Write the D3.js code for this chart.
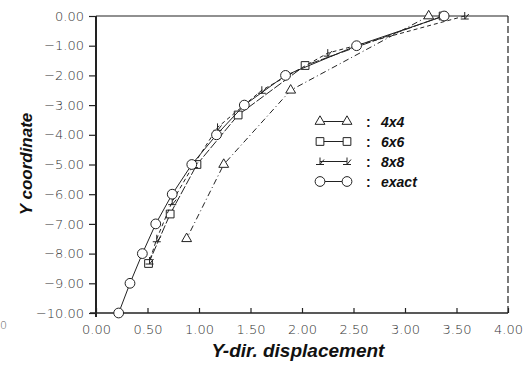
<!DOCTYPE html>
<html><head><meta charset="utf-8">
<script src="https://cdn.jsdelivr.net/npm/d3@7"></script>
<style>body{margin:0;background:#fff}svg{display:block}</style>
</head><body>
<svg id="c" width="526" height="365"></svg>
<script>
// ---- data ----
const xTicks = [0, 0.5, 1, 1.5, 2, 2.5, 3, 3.5, 4];
const yTicks = [0, -1, -2, -3, -4, -5, -6, -7, -8, -9, -10];
const mesh4X = [3.23, 1.89, 1.24, 0.88];
const mesh4Y = [0, -2.5, -5, -7.5];
const mesh6X = [3.37, 2.03, 1.38, 0.98, 0.72, 0.51];
const mesh6Y = [0, -1.667, -3.333, -5, -6.667, -8.333];
const mesh8X = [3.58, 2.25, 1.61, 1.18, 0.95, 0.74, 0.59, 0.52];
const mesh8Y = [0, -1.25, -2.5, -3.75, -5, -6.25, -7.5, -8.25];
const exactX = [3.38, 2.53, 1.84, 1.44, 1.17, 0.93, 0.74, 0.58, 0.45, 0.33, 0.22];
const exactY = [0, -1, -2, -3, -4, -5, -6, -7, -8, -9, -10];
const seriesNames = ["4x4", "6x6", "8x8", "exact"];
const xTitle = "Y-dir. displacement";
const yTitle = "Y coordinate";

// ---- layout ----
const svg = d3.select("#c");
const x = d3.scaleLinear().domain([0, 4]).range([96, 508]);
const y = d3.scaleLinear().domain([-10, 0]).range([313, 16]);
const ink = "#222";
const tickFont = "'DejaVu Sans', sans-serif";

// frame: top & right
svg.append("line").attr("x1", x(0)).attr("x2", x(4)).attr("y1", y(0)).attr("y2", y(0))
  .attr("stroke", ink).attr("stroke-width", 1.2);
svg.append("line").attr("x1", x(4)).attr("x2", x(4)).attr("y1", y(0)).attr("y2", y(-10))
  .attr("stroke", ink).attr("stroke-width", 1.2).attr("stroke-dasharray", "7,3");

// left axis
const yAxis = d3.axisLeft(y).tickValues(yTicks).tickFormat(d3.format(".2f"))
  .tickSizeInner(7).tickSizeOuter(0).tickPadding(5);
const gy = svg.append("g").attr("transform", `translate(${x(0)},0)`).call(yAxis);
gy.select(".domain").remove();
gy.selectAll(".tick line").attr("stroke", ink).attr("stroke-width", 1.2);
gy.selectAll(".tick text").attr("font-family", tickFont).attr("font-size", 13)
  .attr("font-weight", 200).attr("fill", "#333");
svg.append("line").attr("x1", x(0)).attr("x2", x(0)).attr("y1", y(0)).attr("y2", y(-10) + 4)
  .attr("stroke", ink).attr("stroke-width", 2);

// bottom axis
const xAxis = d3.axisBottom(x).tickValues(xTicks).tickFormat(d3.format(".2f"))
  .tickSizeInner(-5).tickSizeOuter(0).tickPadding(12);
const gx = svg.append("g").attr("transform", `translate(0,${y(-10)})`).call(xAxis);
gx.select(".domain").remove();
gx.selectAll(".tick line").attr("stroke", ink).attr("stroke-width", 1.2);
gx.selectAll(".tick text").attr("font-family", tickFont).attr("font-size", 13)
  .attr("font-weight", 200).attr("fill", "#333");
svg.append("line").attr("x1", x(0) - 6).attr("x2", x(4)).attr("y1", y(-10)).attr("y2", y(-10))
  .attr("stroke", ink).attr("stroke-width", 1.5);

// titles
svg.append("text").attr("x", 298).attr("y", 357).attr("text-anchor", "middle")
  .attr("font-family", "'Liberation Sans', Arial, sans-serif").attr("font-weight", "bold")
  .attr("font-style", "italic").attr("font-size", 19).attr("fill", "#111").text(xTitle);
svg.append("text").attr("transform", "translate(32,164) rotate(-90)").attr("text-anchor", "middle")
  .attr("font-family", "'Liberation Sans', Arial, sans-serif").attr("font-weight", "bold")
  .attr("font-style", "italic").attr("font-size", 17).attr("fill", "#111").text(yTitle);

// stray glyph at left edge (from neighbouring figure)
svg.append("text").attr("x", 0).attr("y", 329).attr("font-family", tickFont)
  .attr("font-size", 11).attr("font-weight", 200).attr("fill", "#555").text("0");

// ---- series ----
const sym8 = "M-4,3H4M0,3V-4M0,3L4,-2";
const series = [
  {name: seriesNames[0], xs: mesh4X, ys: mesh4Y, dash: "6,3,1,3", sym: d3.symbol(d3.symbolTriangle, 42)()},
  {name: seriesNames[1], xs: mesh6X, ys: mesh6Y, dash: "9,2", sym: d3.symbol(d3.symbolSquare, 60)()},
  {name: seriesNames[2], xs: mesh8X, ys: mesh8Y, dash: "4,3", sym: sym8},
  {name: seriesNames[3], xs: exactX, ys: exactY, dash: null, sym: d3.symbol(d3.symbolCircle, 75)()}
];
const line = d3.line().x(d => x(d[0])).y(d => y(d[1]));
const g = svg.append("g");
series.forEach(s => {
  const pts = s.xs.map((v, i) => [v, s.ys[i]]);
  g.append("path").attr("d", line(pts)).attr("fill", "none").attr("stroke", ink)
    .attr("stroke-width", 1).attr("stroke-dasharray", s.dash);
  g.selectAll(null).data(pts).join("path")
    .attr("transform", d => `translate(${x(d[0])},${y(d[1])})`)
    .attr("d", s.sym).attr("fill", s.sym === sym8 ? "none" : "#fff")
    .attr("stroke", ink).attr("stroke-width", 1);
});

// ---- legend ----
const lg = svg.append("g");
series.forEach((s, i) => {
  const ly = 121.5 + i * 20;
  lg.append("line").attr("x1", 320).attr("x2", 347).attr("y1", ly).attr("y2", ly)
    .attr("stroke", ink).attr("stroke-width", 1);
  [320, 347].forEach(lx => lg.append("path").attr("transform", `translate(${lx},${ly})`)
    .attr("d", s.sym).attr("fill", s.sym === sym8 ? "none" : "#fff").attr("stroke", ink).attr("stroke-width", 1));
  lg.append("text").attr("x", 366).attr("y", ly + 5).attr("font-family", "'Liberation Sans', Arial, sans-serif")
    .attr("font-weight", "bold").attr("font-size", 14).attr("fill", "#111").text(":");
  lg.append("text").attr("x", 381).attr("y", ly + 5).attr("font-family", "'Liberation Sans', Arial, sans-serif")
    .attr("font-weight", "bold").attr("font-style", "italic").attr("font-size", 14).attr("fill", "#111").text(s.name);
});
</script>
</body></html>
